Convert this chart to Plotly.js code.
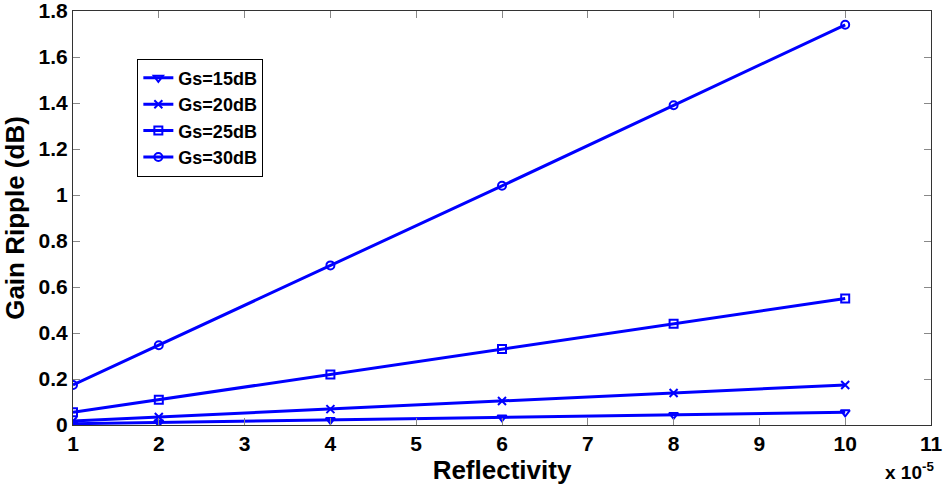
<!DOCTYPE html>
<html><head><meta charset="utf-8">
<script src="https://cdn.plot.ly/plotly-3.0.1.min.js"></script>
<style>body{margin:0;background:#fff}#c{width:943px;height:485px}</style>
</head><body><div id="c"></div>
<script>
const reflectivity = [1, 2, 4, 6, 8, 10];
const gs15 = [0.0055, 0.011, 0.022, 0.033, 0.044, 0.055];
const gs20 = [0.0174, 0.0347, 0.069, 0.104, 0.139, 0.174];
const gs25 = [0.055, 0.11, 0.22, 0.33, 0.44, 0.55];
const gs30 = [0.174, 0.347, 0.694, 1.04, 1.39, 1.74];
const names = ['Gs=15dB', 'Gs=20dB', 'Gs=25dB', 'Gs=30dB'];
const yTickVals = [0, 0.2, 0.4, 0.6, 0.8, 1, 1.2, 1.4, 1.6, 1.8];
const yTickText = ['0', '0.2', '0.4', '0.6', '0.8', '1', '1.2', '1.4', '1.6', '1.8'];
const symbols = ['triangle-down-open', 'x-thin-open', 'square-open', 'circle-open'];
const series = [gs15, gs20, gs25, gs30];
const blue = '#0000ff';
const traces = series.map((s, i) => ({
  x: reflectivity, y: s, name: names[i], type: 'scatter', mode: 'lines+markers',
  line: {color: blue, width: 3},
  marker: {symbol: symbols[i], size: 8, color: blue, line: {color: blue, width: 2}}
}));
const font = {family: 'Liberation Sans, Arial, sans-serif', color: '#000'};
const layout = {
  width: 943, height: 485,
  margin: {l: 73, r: 12, t: 11, b: 60},
  paper_bgcolor: '#fff', plot_bgcolor: '#fff',
  showlegend: true,
  legend: {x: 0.075, y: 0.885, xanchor: 'left', yanchor: 'top', bordercolor: '#000', borderwidth: 1,
    bgcolor: '#fff', font: {family: font.family, size: 18, color: '#000', weight: 'bold'}, tracegroupgap: 0,
    itemwidth: 30},
  xaxis: {range: [1, 11], dtick: 1, tick0: 1, ticks: 'inside', ticklen: 7, tickcolor: '#888',
    ticklabeloverflow: 'allow',
    showgrid: false, zeroline: false, showline: true, linecolor: '#333', linewidth: 1, mirror: 'ticks',
    tickfont: {family: font.family, size: 21, color: '#000', weight: 'bold'},
    title: {text: 'Reflectivity', font: {family: font.family, size: 26, color: '#000', weight: 'bold'}, standoff: 0}},
  yaxis: {range: [0, 1.8], tickmode: 'array', tickvals: yTickVals, ticktext: yTickText,
    ticks: 'inside', ticklen: 7, tickcolor: '#888', ticklabeloverflow: 'allow',
    showgrid: false, zeroline: false, showline: true, linecolor: '#333', linewidth: 1, mirror: 'ticks',
    tickfont: {family: font.family, size: 21, color: '#000', weight: 'bold'},
    title: {text: 'Gain Ripple (dB)', font: {family: font.family, size: 26, color: '#000', weight: 'bold'}, standoff: 6}},
  annotations: [{xref: 'paper', yref: 'paper', x: 1.006, y: -0.11, xanchor: 'right', yanchor: 'middle',
    text: 'x 10<sup>-5</sup>', showarrow: false,
    font: {family: font.family, size: 19, color: '#000', weight: 'bold'}}]
};
Plotly.newPlot('c', traces, layout, {displayModeBar: false});
</script></body></html>
